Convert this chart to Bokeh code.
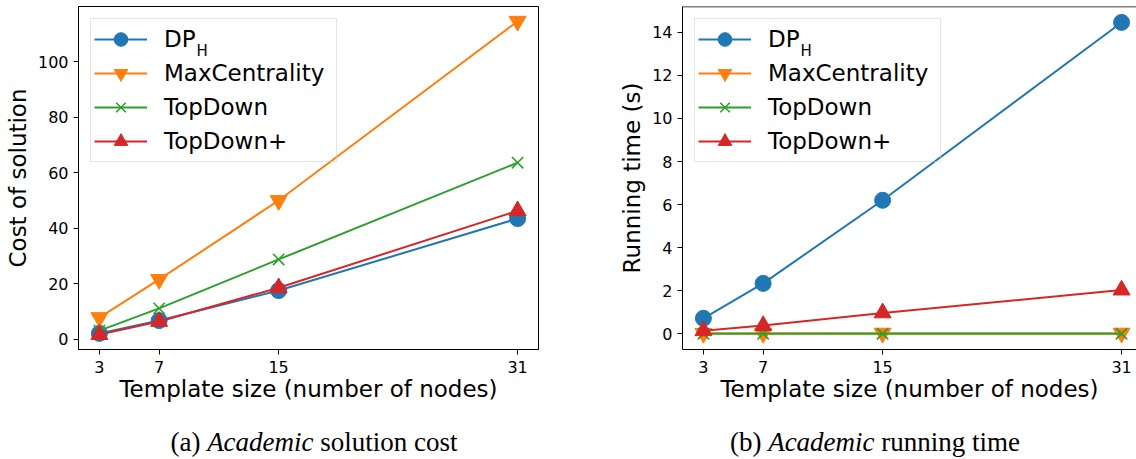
from bokeh.plotting import figure
from bokeh.models import FixedTicker, Legend, LegendItem, Label, Span, Div
from bokeh.layouts import column, row
from bokeh.embed import file_html
from bokeh.resources import INLINE

# ---------------- data ----------------
template_sizes = [3, 7, 15, 31]
series_names = ["DP", "MaxCentrality", "TopDown", "TopDown+"]
series_subscripts = ["H", "", "", ""]

cost_dph = [2.2, 6.8, 17.6, 43.5]
cost_maxcentrality = [7.9, 21.6, 50.0, 114.5]
cost_topdown = [3.2, 11.2, 28.8, 63.6]
cost_topdown_plus = [1.8, 6.5, 18.6, 46.3]

time_dph = [0.72, 2.34, 6.2, 14.46]
time_maxcentrality = [0.02, 0.02, 0.03, 0.03]
time_topdown = [0.0, 0.0, 0.0, 0.0]
time_topdown_plus = [0.14, 0.38, 0.97, 2.03]

cost_ticks = [0, 20, 40, 60, 80, 100]
time_ticks = [0, 2, 4, 6, 8, 10, 12, 14]

x_label = "Template size (number of nodes)"
cost_label = "Cost of solution"
time_label = "Running time (s)"
caption_a = "(a) <i>Academic</i> solution cost"
caption_b = "(b) <i>Academic</i> running time"

colors = ["#1f77b4", "#ff7f0e", "#2ca02c", "#d62728"]
markers = ["circle", "inverted_triangle", "x", "triangle"]
marker_sizes = [16, 17, 16, 17]

FONT = "DejaVu Sans"
FRAME_H = 343


def make_panel(values, y_range, y_ticks, y_label, frame_w, x_end,
               border_left, border_right, right_spine):
    p = figure(frame_width=frame_w, frame_height=FRAME_H,
               x_range=(1.6, x_end), y_range=y_range,
               min_border_left=border_left, min_border_right=border_right,
               min_border_top=6, min_border_bottom=62,
               output_backend="svg", toolbar_location=None)
    p.grid.visible = False
    p.background_fill_color = "white"
    p.border_fill_color = "white"
    if right_spine:
        p.outline_line_color = "black"
        p.outline_line_alpha = 1.0
        p.outline_line_width = 1
    else:
        p.outline_line_color = None
        p.add_layout(Span(location=y_range[1], dimension="width",
                          line_color="black", line_width=1.5))

    p.xaxis.ticker = FixedTicker(ticks=template_sizes)
    p.yaxis.ticker = FixedTicker(ticks=y_ticks)
    p.xaxis.axis_label = x_label
    p.yaxis.axis_label = y_label
    for ax in list(p.xaxis) + list(p.yaxis):
        ax.major_tick_in = 0
        ax.major_tick_out = 5
        ax.minor_tick_line_color = None
        ax.axis_line_color = "black"
        ax.major_tick_line_color = "black"
        ax.major_label_text_font = FONT
        ax.major_label_text_font_size = "16px"
        ax.major_label_text_color = "black"
        ax.axis_label_text_font = FONT
        ax.axis_label_text_font_size = "23px"
        ax.axis_label_text_font_style = "normal"
        ax.axis_label_text_color = "black"
    p.xaxis.major_label_standoff = 6
    p.xaxis.axis_label_standoff = 0
    p.yaxis.major_label_standoff = 5
    p.yaxis.axis_label_standoff = 4

    items = []
    for i, ys in enumerate(values):
        lr = p.line(template_sizes, ys, line_color=colors[i], line_width=2)
        sr = p.scatter(template_sizes, ys, marker=markers[i], size=marker_sizes[i],
                       line_color=colors[i], fill_color=colors[i],
                       line_width=1.6 if markers[i] == "x" else 1)
        items.append(LegendItem(label=series_names[i], renderers=[lr, sr]))

    legend = Legend(items=items, location="top_left", margin=12, padding=3,
                    spacing=0, label_height=34, glyph_height=34, glyph_width=53,
                    label_standoff=17, label_width=169,
                    label_text_font=FONT, label_text_font_size="23px",
                    label_text_color="black",
                    border_line_color="#cccccc", border_line_width=1,
                    background_fill_color="white", background_fill_alpha=0.0)
    p.add_layout(legend)

    # subscript "H" of DP_H
    sub = Label(x=118, y=FRAME_H - 44, x_units="screen", y_units="screen",
                text=series_subscripts[0], text_font=FONT, text_font_size="15px",
                text_color="black", text_alpha=1.0,
                text_baseline="alphabetic", text_align="left", level="overlay")
    p.add_layout(sub)
    return p


p1 = make_panel([cost_dph, cost_maxcentrality, cost_topdown, cost_topdown_plus],
                (-3.6, 119.8), cost_ticks, cost_label, 460, 32.4, 78, 78, True)
p2 = make_panel([time_dph, time_maxcentrality, time_topdown, time_topdown_plus],
                (-0.73, 15.2), time_ticks, time_label, 454, 32.0, 66, 0, False)

cap_style = {"font-family": "'Liberation Serif', serif", "font-size": "27px",
             "text-align": "center", "line-height": "24px", "color": "black"}
d1 = Div(text=caption_a, width=616, height=24, margin=(19, 0, 0, 6), styles=cap_style)
d2 = Div(text=caption_b, width=506, height=24, margin=(19, 0, 0, 0), styles=cap_style)

layout = column(row(p1, p2), row(d1, d2))

open("out.html", "w").write(file_html(layout, INLINE))
